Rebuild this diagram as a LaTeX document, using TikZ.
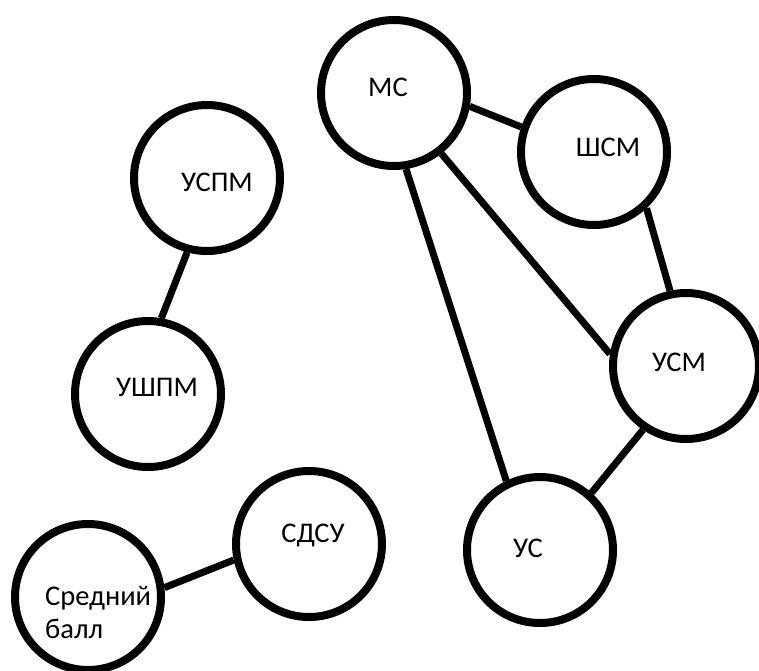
\documentclass[tikz,border=0pt]{standalone}
\usepackage{fontspec}
\setmainfont{Carlito}
\begin{document}
\begin{tikzpicture}[x=1pt,y=-1pt,
  ball/.style={circle,draw=black,line width=8pt,minimum size=146pt,inner sep=0pt,fill=white},
  lbl/.style={font=\fontsize{28.5}{33}\selectfont,text=black},
  edge/.style={draw=black,line width=7pt}]
\useasboundingbox (0,0) rectangle (759,670);
\fill[white] (0,0) rectangle (759,670);
% nodes
\node[ball] (ms) at (394,93) {};
\node[ball] (shsm) at (594,152) {};
\node[ball] (uspm) at (207,178) {};
\node[ball] (usm) at (686,366) {};
\node[ball] (ushpm) at (148,394) {};
\node[ball] (sdsu) at (309,544) {};
\node[ball] (us) at (540,550) {};
\node[ball] (sb) at (88,597) {};
% labels
\node[lbl] (tms) at (388,87) {МС};
\node[lbl] (tshsm) at (608,147) {ШСМ};
\node[lbl] (tuspm) at (217,182) {УСПМ};
\node[lbl] (tusm) at (679,362) {УСМ};
\node[lbl] (tushpm) at (157,387) {УШПМ};
\node[lbl] (tsdsu) at (313,535) {СДСУ};
\node[lbl] (tus) at (528,548) {УС};
\node[lbl,align=left,anchor=west,inner sep=0pt] (tsb) at (45,612) {Средний\\балл};
% connectors
\draw[edge] (ms.-10) -- (shsm.161);
\draw[edge] (ms.-81.5) -- (us.116.6);
\draw[edge] (ms.-52.5) -- (usm.171);
\draw[edge] (shsm.-47.6) -- (usm.102);
\draw[edge] (usm.236.5) -- (us.48.7);
\draw[edge] (uspm.255) -- (ushpm.80);
\draw[edge] (sb.7.4) -- (sdsu.192);
\end{tikzpicture}
\end{document}
